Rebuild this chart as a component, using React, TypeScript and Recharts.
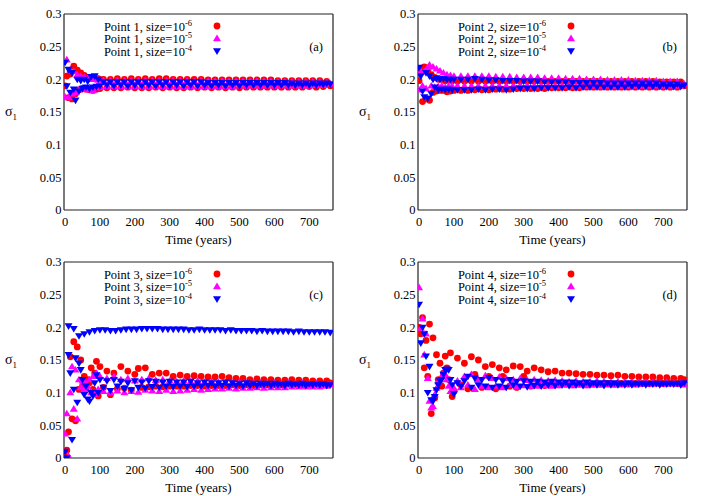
import React from "react";
import { ScatterChart, Scatter, XAxis, YAxis, Legend } from "recharts";

// ---------- data ----------
const times = [
  0, 5, 10, 15, 20, 25, 30, 35, 40, 45, 50, 55, 60, 65, 70, 75, 80, 85, 90, 95, 100,
  110, 120, 130, 140, 150, 160, 170, 180, 190, 200, 210,
  220, 230, 240, 250, 260, 270, 280, 290, 300, 310, 320,
  330, 340, 350, 360, 370, 380, 390, 400, 410, 420, 430,
  440, 450, 460, 470, 480, 490, 500, 510, 520, 530, 540,
  550, 560, 570, 580, 590, 600, 610, 620, 630, 640, 650,
  660, 670, 680, 690, 700, 710, 720, 730, 740, 750, 760,
];

const xTicks = [0, 100, 200, 300, 400, 500, 600, 700];
const yTicks = [0, 0.05, 0.1, 0.15, 0.2, 0.25, 0.3];
const yTickLabels = ["0", "0.05", "0.1", "0.15", "0.2", "0.25", "0.3"];
const pointNames = ["Point 1", "Point 2", "Point 3", "Point 4"];
const sizeExps = ["-6", "-5", "-4"];
const panelLetters = ["(a)", "(b)", "(c)", "(d)"];

// Panel (a)
const aRed = [
  0.19, 0.205, 0.172, 0.208, 0.17, 0.22, 0.178, 0.214, 0.184, 0.21, 0.186, 0.206, 0.185, 0.203, 0.184, 0.202, 0.183, 0.202, 0.185, 0.201, 0.186,
  0.200, 0.187, 0.200, 0.187, 0.201, 0.187, 0.200, 0.188, 0.201, 0.187, 0.200,
  0.187, 0.201, 0.187, 0.200, 0.188, 0.201, 0.187, 0.201, 0.188, 0.200, 0.187,
  0.200, 0.187, 0.200, 0.188, 0.200, 0.187, 0.200, 0.188, 0.199, 0.187, 0.199,
  0.188, 0.199, 0.187, 0.199, 0.188, 0.199, 0.187, 0.199, 0.188, 0.199, 0.188,
  0.199, 0.188, 0.199, 0.188, 0.199, 0.188, 0.198, 0.188, 0.198, 0.188, 0.198,
  0.188, 0.198, 0.188, 0.198, 0.189, 0.198, 0.188, 0.198, 0.189, 0.197, 0.190,
];
const aMag = [
  0.173, 0.23, 0.172, 0.215, 0.178, 0.212, 0.18, 0.207, 0.184, 0.205, 0.185, 0.203, 0.186, 0.202, 0.184, 0.2, 0.183, 0.2, 0.187, 0.199, 0.188,
  0.198, 0.189, 0.198, 0.189, 0.198, 0.189, 0.198, 0.189, 0.198, 0.189, 0.198,
  0.189, 0.198, 0.189, 0.198, 0.189, 0.198, 0.189, 0.198, 0.189, 0.198, 0.189,
  0.198, 0.189, 0.198, 0.189, 0.197, 0.189, 0.198, 0.189, 0.197, 0.189, 0.197,
  0.189, 0.197, 0.189, 0.197, 0.189, 0.197, 0.190, 0.197, 0.190, 0.197, 0.190,
  0.197, 0.190, 0.197, 0.190, 0.197, 0.190, 0.196, 0.190, 0.196, 0.190, 0.196,
  0.190, 0.196, 0.190, 0.196, 0.190, 0.196, 0.191, 0.196, 0.191, 0.195, 0.193,
];
const aBlue = [
  0.226, 0.19, 0.215, 0.18, 0.21, 0.185, 0.168, 0.2, 0.182, 0.198, 0.186, 0.2, 0.188, 0.197, 0.186, 0.204, 0.188, 0.205, 0.189, 0.2, 0.19,
  0.196, 0.191, 0.196, 0.190, 0.196, 0.191, 0.196, 0.190, 0.196, 0.191, 0.196,
  0.190, 0.196, 0.191, 0.196, 0.190, 0.196, 0.191, 0.196, 0.190, 0.196, 0.191,
  0.196, 0.190, 0.196, 0.191, 0.196, 0.190, 0.196, 0.191, 0.195, 0.190, 0.195,
  0.191, 0.195, 0.190, 0.195, 0.191, 0.195, 0.190, 0.195, 0.191, 0.195, 0.191,
  0.195, 0.191, 0.195, 0.191, 0.195, 0.191, 0.195, 0.191, 0.195, 0.191, 0.194,
  0.191, 0.194, 0.191, 0.194, 0.191, 0.194, 0.191, 0.194, 0.192, 0.194, 0.193,
];

// Panel (b)
const bRed = [
  0.198, 0.215, 0.166, 0.219, 0.17, 0.214, 0.168, 0.207, 0.18, 0.203, 0.182, 0.2, 0.183, 0.2, 0.183, 0.198, 0.181, 0.199, 0.182, 0.198, 0.183,
  0.197, 0.183, 0.197, 0.183, 0.197, 0.184, 0.197, 0.184, 0.197, 0.184, 0.197,
  0.185, 0.197, 0.185, 0.197, 0.185, 0.197, 0.186, 0.197, 0.186, 0.197, 0.186,
  0.197, 0.186, 0.197, 0.186, 0.197, 0.187, 0.197, 0.187, 0.197, 0.187, 0.197,
  0.187, 0.197, 0.187, 0.197, 0.188, 0.197, 0.188, 0.197, 0.188, 0.197, 0.188,
  0.197, 0.188, 0.197, 0.188, 0.197, 0.188, 0.197, 0.188, 0.197, 0.188, 0.197,
  0.188, 0.197, 0.188, 0.196, 0.188, 0.196, 0.188, 0.196, 0.188, 0.196, 0.190,
];
const bMag = [
  0.184, 0.212, 0.19, 0.212, 0.186, 0.218, 0.222, 0.19, 0.219, 0.188, 0.216, 0.189, 0.213, 0.19, 0.21, 0.188, 0.207, 0.19, 0.206, 0.19, 0.205,
  0.190, 0.205, 0.190, 0.205, 0.190, 0.205, 0.190, 0.205, 0.190, 0.205, 0.190,
  0.204, 0.190, 0.204, 0.190, 0.204, 0.190, 0.203, 0.190, 0.203, 0.190, 0.203,
  0.190, 0.203, 0.190, 0.202, 0.190, 0.202, 0.190, 0.202, 0.190, 0.201, 0.190,
  0.201, 0.190, 0.201, 0.190, 0.200, 0.190, 0.200, 0.190, 0.200, 0.190, 0.199,
  0.190, 0.199, 0.190, 0.199, 0.190, 0.199, 0.190, 0.198, 0.190, 0.198, 0.190,
  0.198, 0.190, 0.198, 0.190, 0.197, 0.190, 0.197, 0.190, 0.197, 0.190, 0.193,
];
const bBlue = [
  0.218, 0.205, 0.182, 0.173, 0.21, 0.171, 0.205, 0.178, 0.2, 0.188, 0.202, 0.184, 0.2, 0.185, 0.201, 0.184, 0.2, 0.185, 0.2, 0.184, 0.2,
  0.184, 0.200, 0.184, 0.200, 0.184, 0.201, 0.185, 0.200, 0.184, 0.199, 0.185,
  0.199, 0.185, 0.198, 0.184, 0.198, 0.185, 0.198, 0.186, 0.197, 0.186, 0.197,
  0.186, 0.197, 0.187, 0.196, 0.187, 0.196, 0.187, 0.196, 0.187, 0.196, 0.188,
  0.195, 0.187, 0.195, 0.188, 0.195, 0.188, 0.195, 0.188, 0.195, 0.188, 0.194,
  0.188, 0.194, 0.188, 0.194, 0.188, 0.194, 0.189, 0.194, 0.189, 0.194, 0.189,
  0.194, 0.189, 0.194, 0.189, 0.193, 0.189, 0.193, 0.189, 0.193, 0.189, 0.191,
];

// Panel (c)
const cRed = [
  0.003, 0.012, 0.04, 0.155, 0.06, 0.178, 0.057, 0.17, 0.105, 0.15, 0.11, 0.125, 0.104, 0.12, 0.115, 0.138, 0.105, 0.13, 0.148, 0.095, 0.14,
  0.108, 0.133, 0.097, 0.130, 0.106, 0.140, 0.107, 0.133, 0.104, 0.128, 0.137,
  0.108, 0.138, 0.109, 0.128, 0.110, 0.130, 0.109, 0.130, 0.110, 0.125, 0.110,
  0.127, 0.110, 0.125, 0.111, 0.126, 0.111, 0.125, 0.110, 0.124, 0.111, 0.124,
  0.111, 0.125, 0.111, 0.123, 0.112, 0.122, 0.111, 0.122, 0.112, 0.120, 0.111,
  0.121, 0.112, 0.120, 0.112, 0.120, 0.112, 0.119, 0.112, 0.119, 0.113, 0.120,
  0.113, 0.119, 0.112, 0.119, 0.113, 0.118, 0.113, 0.118, 0.113, 0.118, 0.115,
];
const cMag = [
  0.037, 0.068, 0.003, 0.1, 0.14, 0.075, 0.135, 0.06, 0.12, 0.108, 0.118, 0.105, 0.115, 0.11, 0.12, 0.1, 0.125, 0.098, 0.13, 0.105, 0.125,
  0.102, 0.122, 0.100, 0.125, 0.103, 0.120, 0.100, 0.122, 0.102, 0.118, 0.101,
  0.120, 0.104, 0.122, 0.103, 0.119, 0.102, 0.120, 0.104, 0.118, 0.102, 0.117,
  0.103, 0.118, 0.104, 0.117, 0.105, 0.118, 0.104, 0.116, 0.105, 0.117, 0.106,
  0.116, 0.106, 0.116, 0.107, 0.115, 0.106, 0.116, 0.107, 0.115, 0.107, 0.115,
  0.108, 0.115, 0.107, 0.114, 0.108, 0.115, 0.108, 0.114, 0.108, 0.114, 0.109,
  0.114, 0.109, 0.114, 0.109, 0.113, 0.109, 0.114, 0.109, 0.113, 0.110, 0.112,
];
const cBlue = [
  0.01, 0.0, 0.158, 0.13, 0.028, 0.105, 0.153, 0.085, 0.145, 0.135, 0.12, 0.097, 0.11, 0.09, 0.087, 0.1, 0.095, 0.115, 0.127, 0.1, 0.12,
  0.108, 0.118, 0.103, 0.120, 0.110, 0.117, 0.106, 0.115, 0.104, 0.118, 0.108,
  0.116, 0.107, 0.118, 0.109, 0.117, 0.108, 0.116, 0.110, 0.117, 0.109, 0.116,
  0.110, 0.116, 0.109, 0.117, 0.110, 0.115, 0.110, 0.116, 0.111, 0.115, 0.110,
  0.115, 0.111, 0.116, 0.110, 0.115, 0.111, 0.114, 0.110, 0.115, 0.111, 0.114,
  0.111, 0.114, 0.112, 0.114, 0.111, 0.114, 0.112, 0.113, 0.111, 0.114, 0.112,
  0.113, 0.112, 0.114, 0.111, 0.113, 0.112, 0.113, 0.112, 0.113, 0.111, 0.112,
];
// upper branch of the size=1e-4 run at Point 3
const cBlueUpperTimes = [
  10, 25, 40, 55, 70, 85, 100, 115, 130, 145, 160, 175, 190, 205, 220, 235, 250,
  265, 280, 295, 310, 325, 340, 355, 370, 385, 400, 415, 430, 445, 460, 475, 490,
  505, 520, 535, 550, 565, 580, 595, 610, 625, 640, 655, 670, 685, 700, 715, 730, 745, 760,
];
const cBlueUpper = [
  0.202, 0.198, 0.187, 0.19, 0.193, 0.195, 0.196, 0.196, 0.195, 0.195, 0.196, 0.197, 0.197, 0.197, 0.198, 0.198, 0.198,
  0.198, 0.197, 0.197, 0.197, 0.197, 0.197, 0.196, 0.196, 0.197, 0.196, 0.196, 0.196, 0.196, 0.195, 0.196, 0.195,
  0.195, 0.195, 0.195, 0.194, 0.195, 0.194, 0.194, 0.194, 0.194, 0.194, 0.193, 0.194, 0.193, 0.193, 0.193, 0.193, 0.193, 0.192,
];

// Panel (d)
const dRed = [
  0.2, 0.19, 0.215, 0.138, 0.18, 0.125, 0.205, 0.068, 0.184, 0.092, 0.158, 0.12, 0.145, 0.11, 0.13, 0.156, 0.138, 0.12, 0.161, 0.094, 0.102,
  0.153, 0.112, 0.145, 0.106, 0.155, 0.128, 0.150, 0.108, 0.140, 0.125, 0.143,
  0.106, 0.138, 0.125, 0.135, 0.110, 0.141, 0.108, 0.140, 0.125, 0.133, 0.110,
  0.138, 0.112, 0.135, 0.111, 0.132, 0.113, 0.133, 0.112, 0.130, 0.113, 0.130,
  0.112, 0.129, 0.113, 0.128, 0.112, 0.128, 0.113, 0.127, 0.113, 0.127, 0.114,
  0.126, 0.113, 0.127, 0.114, 0.125, 0.113, 0.125, 0.114, 0.124, 0.114, 0.124,
  0.114, 0.124, 0.115, 0.123, 0.114, 0.123, 0.115, 0.122, 0.114, 0.122, 0.120,
];
const dMag = [
  0.261, 0.199, 0.213, 0.158, 0.19, 0.122, 0.087, 0.077, 0.079, 0.097, 0.107, 0.117, 0.12, 0.125, 0.13, 0.128, 0.12, 0.11, 0.102, 0.105, 0.107,
  0.118, 0.108, 0.125, 0.112, 0.128, 0.105, 0.120, 0.110, 0.126, 0.108, 0.122,
  0.110, 0.124, 0.108, 0.122, 0.112, 0.120, 0.109, 0.122, 0.111, 0.119, 0.110,
  0.120, 0.110, 0.119, 0.111, 0.118, 0.110, 0.119, 0.111, 0.118, 0.112, 0.117,
  0.111, 0.118, 0.112, 0.117, 0.111, 0.117, 0.112, 0.118, 0.112, 0.117, 0.112,
  0.116, 0.112, 0.117, 0.112, 0.116, 0.113, 0.116, 0.112, 0.116, 0.113, 0.116,
  0.113, 0.116, 0.113, 0.115, 0.113, 0.116, 0.113, 0.115, 0.113, 0.115, 0.112,
];
const dBlue = [
  0.235, 0.176, 0.2, 0.19, 0.156, 0.1, 0.14, 0.089, 0.087, 0.094, 0.104, 0.112, 0.118, 0.12, 0.128, 0.135, 0.136, 0.135, 0.12, 0.112, 0.098,
  0.115, 0.110, 0.118, 0.125, 0.108, 0.122, 0.112, 0.120, 0.110, 0.123, 0.108,
  0.120, 0.110, 0.118, 0.108, 0.120, 0.112, 0.117, 0.110, 0.118, 0.109, 0.117,
  0.111, 0.117, 0.110, 0.116, 0.112, 0.117, 0.111, 0.116, 0.112, 0.116, 0.111,
  0.116, 0.112, 0.115, 0.111, 0.116, 0.112, 0.115, 0.112, 0.115, 0.111, 0.115,
  0.112, 0.115, 0.112, 0.114, 0.112, 0.115, 0.112, 0.114, 0.113, 0.114, 0.112,
  0.114, 0.113, 0.114, 0.112, 0.114, 0.113, 0.114, 0.113, 0.114, 0.112, 0.115,
];

// ---------- helpers ----------
const zip = (xs: number[], ys: number[]) =>
  ys.slice(0, xs.length).map((y, i) => ({ x: xs[i], y }));

const panels = [
  { red: aRed, mag: aMag, blue: aBlue, extra: null as null | number[] },
  { red: bRed, mag: bMag, blue: bBlue, extra: null as null | number[] },
  { red: cRed, mag: cMag, blue: cBlue, extra: cBlueUpper },
  { red: dRed, mag: dMag, blue: dBlue, extra: null as null | number[] },
];

const FONT = "'Liberation Serif', 'Times New Roman', serif";
const FRAME = "#222";
const RED = "#ff0000";
const MAG = "#ff00ff";
const BLUE = "#0000ff";
const xDomain = [-3, 768];
const yDomain = [0, 0.3];

const Circle = (cx: number, cy: number) => <circle cx={cx} cy={cy} r={3.4} fill={RED} />;
const TriUp = (cx: number, cy: number) => (
  <polygon points={`${cx},${cy - 3.9} ${cx - 4},${cy + 2.7} ${cx + 4},${cy + 2.7}`} fill={MAG} />
);
const TriDown = (cx: number, cy: number) => (
  <polygon points={`${cx},${cy + 3.9} ${cx - 4},${cy - 2.7} ${cx + 4},${cy - 2.7}`} fill={BLUE} />
);
const markers = [Circle, TriUp, TriDown];

const shapeOf = (k: number) => (p: any) => {
  if (p == null || p.cx == null || p.cy == null) return <g />;
  return markers[k](p.cx, p.cy);
};

const LegendBox = ({ idx }: { idx: number }) => (
  <svg width={130} height={44} style={{ overflow: "visible", display: "block" }}>
    {sizeExps.map((e, k) => (
      <g key={k}>
        <text x={92} y={12.5 + k * 12.5} textAnchor="end" fontFamily={FONT} fontSize={12.5} fill="#000">
          {pointNames[idx]}, size=10
          <tspan dy={-5} fontSize={8.5}>{e}</tspan>
        </text>
        {markers[k](117, 8 + k * 12.5)}
      </g>
    ))}
    <text x={223} y={32.5} textAnchor="end" fontFamily={FONT} fontSize={12.5} fill="#000">
      {panelLetters[idx]}
    </text>
  </svg>
);

const SigmaLabel = (props: any) => {
  const vb = props.viewBox || { x: 0, y: 14, width: 64, height: 196 };
  const y = vb.y + vb.height / 2 + 4;
  return (
    <text x={vb.x + 5} y={y} fontFamily={FONT} fontSize={14} fill="#000">
      σ<tspan dy={3.5} fontSize={9}>1</tspan>
    </text>
  );
};

const tickStyle = { fontFamily: FONT, fontSize: 12.5, fill: "#000" };
const frameLine = { stroke: FRAME, strokeWidth: 1.2 };

function Panel({ idx, left, top }: { idx: number; left: number; top: number }) {
  const p = panels[idx];
  return (
    <div style={{ position: "absolute", left, top, width: 354, height: 248 }}>
      <ScatterChart width={354} height={248} margin={{ top: 14, right: 21, bottom: 0, left: 0 }}>
        <XAxis
          xAxisId="x"
          type="number"
          dataKey="x"
          domain={xDomain}
          allowDataOverflow
          ticks={xTicks}
          interval={0}
          height={38}
          tickLine={false}
          axisLine={false}
          tickSize={0}
          tickMargin={7}
          tick={tickStyle}
          label={{
            value: "Time (years)",
            position: "insideBottom",
            offset: 4,
            fill: "#000",
            style: { fontFamily: FONT, fontSize: 13 },
          }}
        />
        <XAxis xAxisId="xb" type="number" orientation="bottom" mirror domain={xDomain} allowDataOverflow ticks={xTicks} interval={0} tick={false} tickSize={6} tickLine={frameLine} axisLine={frameLine} />
        <XAxis xAxisId="xt" type="number" orientation="top" mirror domain={xDomain} allowDataOverflow ticks={xTicks} interval={0} tick={false} tickSize={6} tickLine={frameLine} axisLine={frameLine} />
        <YAxis
          yAxisId="y"
          type="number"
          dataKey="y"
          domain={yDomain}
          allowDataOverflow
          ticks={yTicks}
          interval={0}
          width={64}
          tickLine={false}
          axisLine={false}
          tickSize={0}
          tickMargin={2.5}
          tick={tickStyle}
          tickFormatter={(v: number, i: number) => yTickLabels[i] ?? String(v)}
          label={SigmaLabel}
        />
        <YAxis yAxisId="yl" type="number" orientation="left" mirror domain={yDomain} allowDataOverflow ticks={yTicks} interval={0} tick={false} tickSize={6} tickLine={frameLine} axisLine={frameLine} />
        <YAxis yAxisId="yr" type="number" orientation="right" mirror domain={yDomain} allowDataOverflow ticks={yTicks} interval={0} tick={false} tickSize={6} tickLine={frameLine} axisLine={frameLine} />
        <Scatter
          name={`${pointNames[idx]}, size=1e-6`}
          data={zip(times, p.red)}
          xAxisId="x"
          yAxisId="y"
          fill={RED}
          shape={shapeOf(0)}
          isAnimationActive={false}
        />
        <Scatter
          name={`${pointNames[idx]}, size=1e-5`}
          data={zip(times, p.mag)}
          xAxisId="x"
          yAxisId="y"
          fill={MAG}
          shape={shapeOf(1)}
          isAnimationActive={false}
        />
        <Scatter
          name={`${pointNames[idx]}, size=1e-4`}
          data={zip(times, p.blue)}
          xAxisId="x"
          yAxisId="y"
          fill={BLUE}
          shape={shapeOf(2)}
          isAnimationActive={false}
        />
        {p.extra ? (
          <Scatter
            name={`${pointNames[idx]}, size=1e-4 (upper)`}
            data={zip(cBlueUpperTimes, p.extra)}
            xAxisId="x"
            yAxisId="y"
            fill={BLUE}
            legendType="none"
            shape={shapeOf(2)}
            isAnimationActive={false}
          />
        ) : null}
        <Legend
          layout="horizontal"
          verticalAlign="middle"
          align="center"
          wrapperStyle={{ left: 100, top: 18, width: 130, height: 44 }}
          content={() => <LegendBox idx={idx} />}
        />
      </ScatterChart>
    </div>
  );
}

export default function App() {
  return (
    <div style={{ position: "absolute", left: 0, top: 0, width: 708, height: 496, background: "#fff" }}>
      <Panel idx={0} left={0} top={0} />
      <Panel idx={1} left={354} top={0} />
      <Panel idx={2} left={0} top={248} />
      <Panel idx={3} left={354} top={248} />
    </div>
  );
}
